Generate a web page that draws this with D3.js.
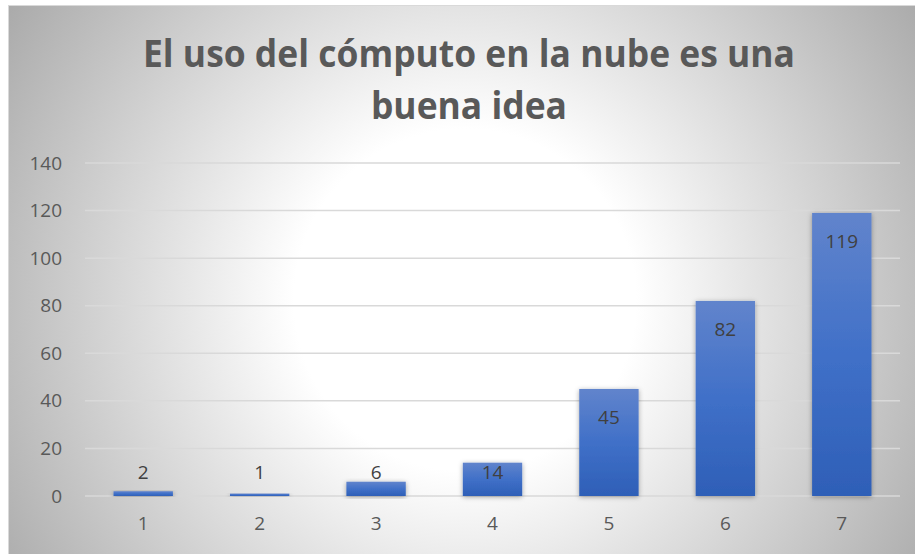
<!DOCTYPE html>
<html>
<head>
<meta charset="utf-8">
<script src="https://cdn.jsdelivr.net/npm/d3@7"></script>
<style>
  body{margin:0;background:#fff;}
  svg{display:block;font-family:"Open Sans","Noto Sans",sans-serif;}
</style>
</head>
<body>
<main></main>
<script>
const w=915;
const h=554;
// chart data
const categories=["1","2","3","4","5","6","7"];
const values=[2,1,6,14,45,82,119];
const yTicks=[0,20,40,60,80,100,120,140];
const titleLines=["El uso del cómputo en la nube es una","buena idea"];

const plot={left:85,right:900,top:163,bottom:496};

const svg=d3.select("main")
            .append("svg")
            .attr("width",w)
            .attr("height",h);

const defs=svg.append("defs");
// background radial gradient
const bg=defs.append("radialGradient")
             .attr("id","bg")
             .attr("gradientUnits","userSpaceOnUse")
             .attr("cx",465).attr("cy",300).attr("r",570);
bg.append("stop").attr("offset","0").attr("stop-color","#ffffff");
bg.append("stop").attr("offset","0.3").attr("stop-color","#ffffff");
bg.append("stop").attr("offset","1").attr("stop-color","#a4a4a4");
// bar gradient
const bar=defs.append("linearGradient")
              .attr("id","bar")
              .attr("x1",0).attr("y1",0).attr("x2",0).attr("y2",1);
bar.append("stop").attr("offset","0").attr("stop-color","#6184cc");
bar.append("stop").attr("offset","0.5").attr("stop-color","#4070c8");
bar.append("stop").attr("offset","1").attr("stop-color","#2e5fb7");
const shadow=defs.append("filter").attr("id","shadow")
                 .attr("x","-20%").attr("y","-20%").attr("width","140%").attr("height","140%");
shadow.append("feDropShadow").attr("dx",0).attr("dy",1).attr("stdDeviation",2.5)
      .attr("flood-color","#000").attr("flood-opacity",0.35);

// chart area
svg.append("rect")
   .attr("x",8.5).attr("y",5.5)
   .attr("width",w-8).attr("height",h-5)
   .attr("fill","url(#bg)")
   .attr("stroke","#d9d9d9");

// scales
const xScale=d3.scaleBand()
               .domain(categories)
               .range([plot.left,plot.right])
               .paddingInner(0.49)
               .paddingOuter(0.245);
const yScale=d3.scaleLinear()
               .domain([0,140])
               .range([plot.bottom,plot.top]);

// gridlines
svg.append("g")
   .selectAll("line")
   .data(yTicks)
   .enter()
   .append("line")
   .attr("x1",plot.left).attr("x2",plot.right)
   .attr("y1",d=>yScale(d)).attr("y2",d=>yScale(d))
   .attr("stroke","#d9d9d9")
   .attr("stroke-width",1.5);

// y axis labels
const yAxis=d3.axisLeft(yScale).tickValues(yTicks).tickSize(0).tickPadding(0);
svg.append("g")
   .attr("transform","translate(62,0)")
   .call(yAxis)
   .call(g=>g.select(".domain").remove())
   .selectAll("text")
   .attr("fill","#595959")
   .style("font-family","'Open Sans',sans-serif")
   .style("font-size","19px");

// x axis labels
const xAxis=d3.axisBottom(xScale).tickSize(0).tickPadding(0);
svg.append("g")
   .attr("transform",`translate(0,${plot.bottom+20})`)
   .call(xAxis)
   .call(g=>g.select(".domain").remove())
   .selectAll("text")
   .attr("fill","#595959")
   .style("font-family","'Open Sans',sans-serif")
   .style("font-size","19px");

// bars
svg.append("g")
   .selectAll("rect")
   .data(values)
   .enter()
   .append("rect")
   .attr("x",(d,i)=>xScale(categories[i]))
   .attr("y",d=>yScale(d))
   .attr("width",xScale.bandwidth())
   .attr("height",d=>yScale(0)-yScale(d))
   .attr("fill","url(#bar)")
   .attr("filter","url(#shadow)");

// value labels
svg.append("g")
   .selectAll("text")
   .data(values)
   .enter()
   .append("text")
   .attr("x",(d,i)=>xScale(categories[i])+xScale.bandwidth()/2)
   .attr("y",d=>Math.min(yScale(d)+35,yScale(0)-17))
   .attr("text-anchor","middle")
   .attr("fill","#404040")
   .style("font-size","19px")
   .text(d=>d);

// title
const title=svg.append("g")
   .selectAll("text")
   .data(titleLines)
   .enter()
   .append("text")
   .attr("x",469)
   .attr("y",(d,i)=>67+i*52)
   .attr("text-anchor","middle")
   .attr("fill","#595959")
   .style("font-weight","bold")
   .style("font-size","37px")
   .text(d=>d);
// squeeze the lines to the width they have in the original
const ratio=652/title.node().getComputedTextLength();
title.each(function(){
  const l=this.getComputedTextLength();
  d3.select(this).attr("textLength",l*ratio).attr("lengthAdjust","spacingAndGlyphs");
});
</script>
</body>
</html>
